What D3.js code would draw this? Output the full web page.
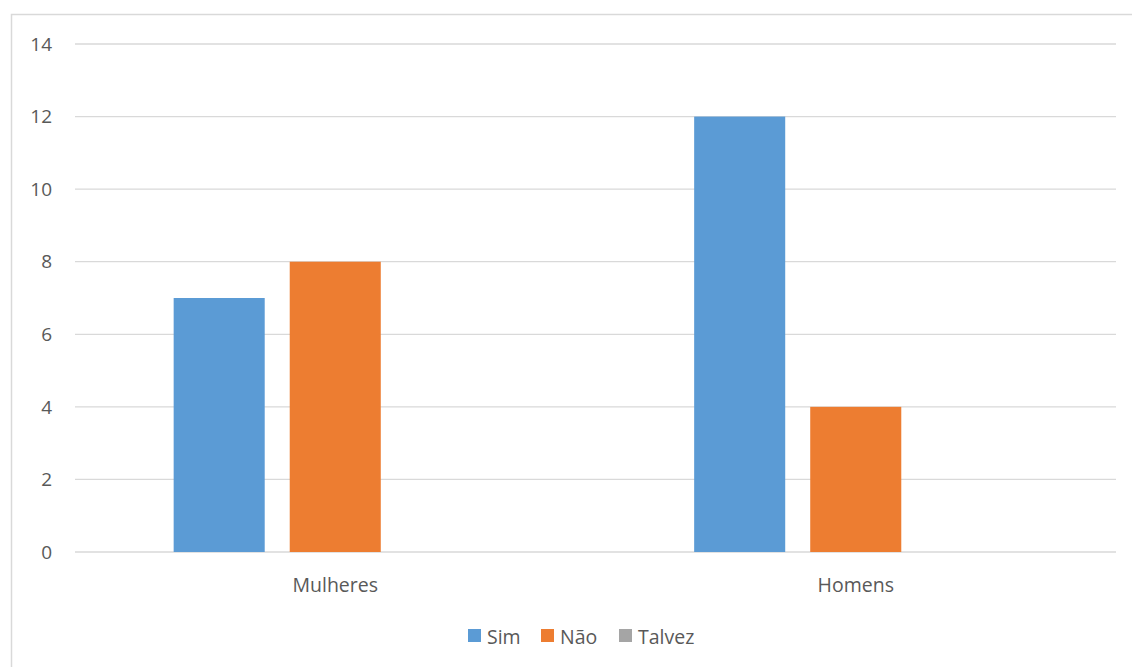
<!DOCTYPE html>
<html>
<head>
<meta charset="utf-8">
<script src="https://cdn.jsdelivr.net/npm/d3@7"></script>
<style>
  body { margin: 0; background: #fff; }
  text { font-family: "Open Sans", "Liberation Sans", sans-serif; fill: #595959; }
</style>
</head>
<body>
<div id="chart"></div>
<script>
// chart data
const categories = ["Mulheres", "Homens"];
const series = ["Sim", "Não", "Talvez"];
const sim = [7, 12];
const nao = [8, 4];
const talvez = [0, 0];
const yTicks = [0, 2, 4, 6, 8, 10, 12, 14];
const colors = ["#5b9bd5", "#ed7d31", "#a5a5a5"];

const width = 1132, height = 667;
const values = [sim, nao, talvez];

const svg = d3.select("#chart").append("svg")
    .attr("width", width)
    .attr("height", height);

// outer chart border
svg.append("rect")
    .attr("x", 11.5).attr("y", 14.5)
    .attr("width", 1130).attr("height", 670)
    .attr("fill", "none")
    .attr("stroke", "#d9d9d9")
    .attr("stroke-width", 1.5);

const plotLeft = 75, plotRight = 1116, plotTop = 44, plotBottom = 552;

const x = d3.scaleBand()
    .domain(categories)
    .range([plotLeft, plotRight]);

const xInner = d3.scaleBand()
    .domain(series)
    .range([0, x.bandwidth()])
    .paddingInner(0.2155)
    .paddingOuter(0.85);

const y = d3.scaleLinear()
    .domain([0, 14])
    .range([plotBottom, plotTop]);

// gridlines
svg.append("g")
    .selectAll("line")
    .data(yTicks)
    .enter()
    .append("line")
    .attr("x1", plotLeft).attr("x2", plotRight)
    .attr("y1", d => y(d)).attr("y2", d => y(d))
    .attr("stroke", "#d9d9d9")
    .attr("stroke-width", 1.3);

// y tick labels
svg.append("g")
    .selectAll("text")
    .data(yTicks)
    .enter()
    .append("text")
    .attr("x", 52)
    .attr("y", d => y(d))
    .attr("dy", "0.35em")
    .attr("text-anchor", "end")
    .style("font-size", "19px")
    .text(d => d);

// bars
series.forEach((s, i) => {
    svg.append("g")
        .selectAll("rect")
        .data(values[i])
        .enter()
        .append("rect")
        .attr("x", (d, j) => x(categories[j]) + xInner(s))
        .attr("y", d => y(d))
        .attr("width", xInner.bandwidth())
        .attr("height", d => y(0) - y(d))
        .attr("fill", colors[i]);
});

// category labels
svg.append("g")
    .selectAll("text")
    .data(categories)
    .enter()
    .append("text")
    .attr("x", d => x(d) + x.bandwidth() / 2)
    .attr("y", 585)
    .attr("dy", "0.35em")
    .attr("text-anchor", "middle")
    .style("font-size", "19.5px")
    .text(d => d);

// legend
const legendX = [468, 541, 619];
const legend = svg.append("g");
series.forEach((s, i) => {
    legend.append("rect")
        .attr("x", legendX[i]).attr("y", 629)
        .attr("width", 13).attr("height", 13)
        .attr("fill", colors[i]);
    legend.append("text")
        .attr("x", legendX[i] + 19)
        .attr("y", 637)
        .attr("dy", "0.35em")
        .style("font-size", "19.5px")
        .text(s);
});
</script>
</body>
</html>
